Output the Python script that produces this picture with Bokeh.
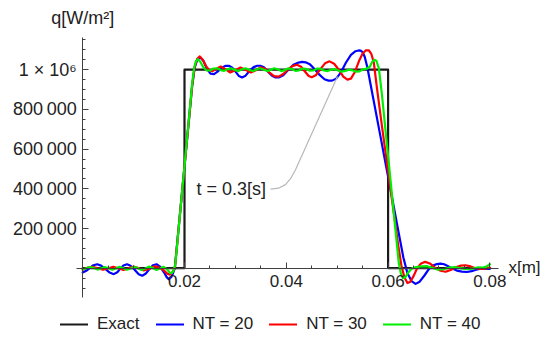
from bokeh.plotting import figure
from bokeh.models import Range1d, FixedTicker, LinearAxis, Label, Legend, LegendItem
from bokeh.embed import file_html
from bokeh.resources import INLINE

# ---------------- data (x in m, q in W/m^2) ----------------
exact_x = [0.0, 0.02, 0.02, 0.06, 0.06, 0.08]
exact_q = [0, 0, 1000000, 1000000, 0, 0]

nt20_x = [0.0000, 0.0007, 0.0014, 0.0021, 0.00285, 0.0036, 0.0045, 0.0053, 0.0061, 0.0068,
          0.0074, 0.0080, 0.0087, 0.0094, 0.0102, 0.0110, 0.0117, 0.0124, 0.0131, 0.0138,
          0.0145, 0.0152, 0.0160, 0.0165, 0.0169, 0.0174, 0.0177, 0.0181, 0.0190, 0.0200,
          0.0210, 0.0215, 0.0220, 0.0225, 0.0231, 0.0237, 0.0244, 0.0251, 0.0258, 0.0265,
          0.0273, 0.0280, 0.0287, 0.0294, 0.0301, 0.0307, 0.0313, 0.0320, 0.0328, 0.0336,
          0.0343, 0.0349, 0.0356, 0.0364, 0.0372, 0.0379, 0.0385, 0.0394, 0.0404, 0.0414,
          0.0424, 0.0431, 0.0438, 0.0446, 0.0455, 0.0465, 0.0475, 0.0483, 0.0490, 0.0498,
          0.0507, 0.0517, 0.0527, 0.0536, 0.0542, 0.0546, 0.0550, 0.0554, 0.0559, 0.0570,
          0.0585, 0.0596, 0.0607, 0.0620, 0.0630, 0.0638, 0.0646, 0.0654, 0.0662, 0.0671,
          0.0680, 0.0688, 0.0696, 0.0703, 0.0710, 0.0718, 0.0726, 0.0735, 0.0745, 0.0755,
          0.0764, 0.0773, 0.0782, 0.0791, 0.0800]
nt20_q = [-22000, -13000, 2000, 15000, 20000, 13000, -5000, -22000, -30000, -20000,
          -2000, 14000, 20000, 12000, -8000, -30000, -38000, -27000, -4000, 15000,
          20000, 8000, -22000, -45000, -55000, -45000, -28000, 0, 243000, 513000,
          783000, 918000, 1010000, 1050000, 1062000, 1045000, 1005000, 980000, 978000, 990000,
          1010000, 1019000, 1020000, 1010000, 988000, 968000, 961000, 970000, 995000, 1013000,
          1020000, 1020000, 1012000, 990000, 970000, 961000, 961000, 972000, 1000000, 1025000,
          1036000, 1039000, 1037000, 1028000, 1005000, 975000, 952000, 945000, 945000, 955000,
          985000, 1035000, 1075000, 1093000, 1097000, 1096000, 1088000, 1065000, 1015000, 866000,
          664000, 515000, 367000, 189000, 54000, -25000, -65000, -79000, -68000, -38000,
          -5000, 13000, 21000, 23000, 20000, 10000, -2000, -12000, -17000, -19000,
          -15000, -8000, -3000, -2000, -3000]

nt30_x = [0.0000, 0.0010, 0.0020, 0.0030, 0.0040, 0.0050, 0.0060, 0.0070, 0.0080, 0.0090,
          0.0100, 0.0110, 0.0120, 0.0130, 0.0140, 0.0150, 0.0158, 0.0165, 0.0170, 0.0175,
          0.0181, 0.0190, 0.0200, 0.0210, 0.0215, 0.0220, 0.0225, 0.0230, 0.0236, 0.0243,
          0.0249, 0.0255, 0.0263, 0.0271, 0.0280, 0.0290, 0.0300, 0.0310, 0.0320, 0.0330,
          0.0340, 0.0350, 0.0358, 0.0367, 0.0376, 0.0385, 0.0394, 0.0403, 0.0412, 0.0421,
          0.0429, 0.0437, 0.0444, 0.0450, 0.0458, 0.0467, 0.0476, 0.0485, 0.0494, 0.0503,
          0.0512, 0.0520, 0.0527, 0.0535, 0.0543, 0.0550, 0.0556, 0.0562, 0.0567, 0.0572,
          0.0578, 0.0588, 0.0599, 0.0610, 0.0620, 0.0626, 0.0632, 0.0638, 0.0643, 0.0650,
          0.0657, 0.0664, 0.0673, 0.0682, 0.0692, 0.0703, 0.0713, 0.0723, 0.0733, 0.0743,
          0.0752, 0.0762, 0.0772, 0.0781, 0.0790, 0.0800]
nt30_q = [-8000, 3000, 7000, -1000, -8000, 0, 7000, 0, -9000, -1000,
          8000, 1000, -11000, -4000, 9000, 5000, -8000, -25000, -32000, -25000,
          0, 243000, 513000, 783000, 918000, 1015000, 1055000, 1067000, 1050000, 1015000,
          997000, 993000, 1005000, 1016000, 1003000, 986000, 997000, 1011000, 1000000, 986000,
          997000, 1012000, 1005000, 985000, 968000, 965000, 978000, 1000000, 1018000, 1025000,
          1015000, 990000, 968000, 962000, 972000, 1003000, 1032000, 1042000, 1030000, 1000000,
          965000, 950000, 955000, 990000, 1045000, 1082000, 1097000, 1098000, 1080000, 1035000,
          910000, 715000, 505000, 300000, 115000, 15000, -45000, -75000, -70000, -40000,
          0, 22000, 32000, 24000, 3000, -13000, -18000, -9000, 5000, 13000,
          15000, 9000, 0, -3000, -2000, 3000]

nt40_x = [0.0000, 0.0007, 0.0014, 0.0021, 0.0029, 0.0036, 0.0043, 0.0050, 0.0058, 0.0065,
          0.0072, 0.0079, 0.0087, 0.0094, 0.0101, 0.0108, 0.0116, 0.0123, 0.0130, 0.0137,
          0.0145, 0.0152, 0.0159, 0.0165, 0.0171, 0.0175, 0.0178, 0.0182, 0.0190, 0.0200,
          0.0210, 0.0215, 0.0219, 0.0222, 0.0226, 0.0231, 0.0237, 0.0243, 0.0250, 0.0257,
          0.0264, 0.0271, 0.0278, 0.0285, 0.0292, 0.0299, 0.0306, 0.0313, 0.0320, 0.0327,
          0.0334, 0.0341, 0.0348, 0.0355, 0.0362, 0.0369, 0.0376, 0.0383, 0.0390, 0.0397,
          0.0404, 0.0411, 0.0418, 0.0425, 0.0432, 0.0439, 0.0446, 0.0453, 0.0460, 0.0467,
          0.0474, 0.0481, 0.0488, 0.0495, 0.0502, 0.0509, 0.0516, 0.0523, 0.0530, 0.0537,
          0.0544, 0.0551, 0.0558, 0.0564, 0.0569, 0.0573, 0.0577, 0.0582, 0.0588, 0.0595,
          0.0602, 0.0610, 0.0617, 0.0621, 0.0625, 0.0629, 0.0634, 0.0640, 0.0647, 0.0655,
          0.0665, 0.0677, 0.0688, 0.0698, 0.0709, 0.0720, 0.0731, 0.0742, 0.0754, 0.0766,
          0.0777, 0.0786, 0.0793, 0.0800]
nt40_q = [-6000, 0, 6000, 2000, -7000, -1000, 6000, 1000, -8000, -1000,
          7000, 1000, -8000, -1000, 7000, 1000, -9000, -1000, 8000, 2000,
          -9000, -1000, 7000, -3000, -22000, -25000, -15000, 20000, 240000, 515000,
          790000, 930000, 1010000, 1040000, 1053000, 1040000, 1012000, 997000, 996000, 1006000,
          1007000, 998000, 994000, 1003000, 1007000, 999000, 993000, 1002000, 1007000, 1000000,
          993000, 1000000, 1007000, 1001000, 993000, 999000, 1007000, 1002000, 993000, 998000,
          1007000, 1003000, 994000, 997000, 1006000, 1004000, 995000, 996000, 1005000, 1005000,
          996000, 993000, 1000000, 1003000, 996000, 990000, 994000, 1000000, 997000, 990000,
          992000, 1002000, 1005000, 1015000, 1040000, 1050000, 1045000, 1005000, 872000, 692000,
          513000, 308000, 128000, 26000, -25000, -50000, -45000, -20000, 0, 6000,
          9000, 10000, 1000, -7000, -5000, 3000, 6000, 0, -5000, -2000,
          4000, 3000, 8000, 20000]

x_major = [0.02, 0.04, 0.06, 0.08]
x_minor = [0.005, 0.01, 0.015, 0.025, 0.03, 0.035, 0.045, 0.05, 0.055, 0.065, 0.07, 0.075]
y_major = [200000, 400000, 600000, 800000, 1000000]
y_minor = [-100000, -50000, 50000, 100000, 150000, 250000, 300000, 350000, 450000, 500000,
           550000, 650000, 700000, 750000, 850000, 900000, 950000, 1050000, 1100000, 1150000]
y_labels = ["200\u2009000", "400\u2009000", "600\u2009000", "800\u2009000", "1 \u00d7 10\u2076"]

series_names = ["Exact", "NT = 20", "NT = 30", "NT = 40"]
series_colors = ["#1a1a1a", "#0000ff", "#ff0000", "#00ee00"]

# callout leader (annotation placement, in data coords)
leader_x = [0.03690, 0.03847, 0.03984, 0.04083, 0.04181, 0.05006]
leader_q = [398000, 403000, 421000, 451000, 496000, 966000]

FONT = "Liberation Sans"
TXT = "#222222"
AX = "#404040"

# the frame covers the whole canvas; axes are drawn at the origin with bounds
p = figure(frame_width=541, frame_height=337, output_backend="svg", toolbar_location=None,
           x_range=Range1d(-0.016149, 0.090138), y_range=Range1d(-349100, 1348600),
           x_axis_location=None, y_axis_location=None,
           min_border=0, min_border_left=0, min_border_right=0, min_border_top=0, min_border_bottom=0)
p.outline_line_color = None
p.xgrid.visible = False
p.ygrid.visible = False
p.background_fill_color = "white"

xaxis = LinearAxis(fixed_location=0, bounds=(-0.00122, 0.0817),
                   ticker=FixedTicker(ticks=x_major, minor_ticks=x_minor))
yaxis = LinearAxis(fixed_location=0, bounds=(-146000, 1164000),
                   ticker=FixedTicker(ticks=y_major, minor_ticks=y_minor))
yaxis.major_label_overrides = {v: s for v, s in zip(y_major, y_labels)}
for ax in (xaxis, yaxis):
    ax.axis_line_color = AX
    ax.major_tick_line_color = AX
    ax.minor_tick_line_color = AX
    ax.major_tick_in = 6
    ax.major_tick_out = 0
    ax.minor_tick_in = 3
    ax.minor_tick_out = 0
    ax.major_label_text_font = FONT
    ax.major_label_text_color = TXT
xaxis.major_label_text_font_size = "17px"
yaxis.major_label_text_font_size = "18px"
xaxis.major_label_standoff = 7
yaxis.major_label_standoff = 6
p.add_layout(xaxis, "below")
p.add_layout(yaxis, "left")

rs = []
for xs, qs, c in zip([exact_x, nt20_x, nt30_x, nt40_x], [exact_q, nt20_q, nt30_q, nt40_q], series_colors):
    r = p.line(xs, qs, line_color=c, line_width=2.2, line_join="round", line_cap="round")
    rs.append(r)

p.line(leader_x, leader_q, line_color="#b8b8b8", line_width=1.2)
p.add_layout(Label(x=0.02236, y=401000, text="t = 0.3[s]", text_font=FONT, text_font_size="18px",
                   text_color=TXT, text_baseline="middle", text_align="left"))
p.add_layout(Label(x=0.0, y=1262000, text="q[W/m\u00b2]", text_font=FONT, text_font_size="18px",
                   text_color=TXT, text_baseline="middle", text_align="center"))
p.add_layout(Label(x=0.08365, y=3000, text="x[m]", text_font=FONT, text_font_size="17px",
                   text_color=TXT, text_baseline="middle", text_align="left"))

legend = Legend(items=[LegendItem(label=n, renderers=[r]) for n, r in zip(series_names, rs)],
                orientation="horizontal", location=(60, 3), glyph_width=28, glyph_height=16,
                label_standoff=9, spacing=16, padding=0, margin=0, border_line_color=None,
                background_fill_alpha=0, label_text_font=FONT, label_text_font_size="17px",
                label_text_color=TXT)
p.add_layout(legend, "center")

open("out.html", "w").write(file_html(p, INLINE))
